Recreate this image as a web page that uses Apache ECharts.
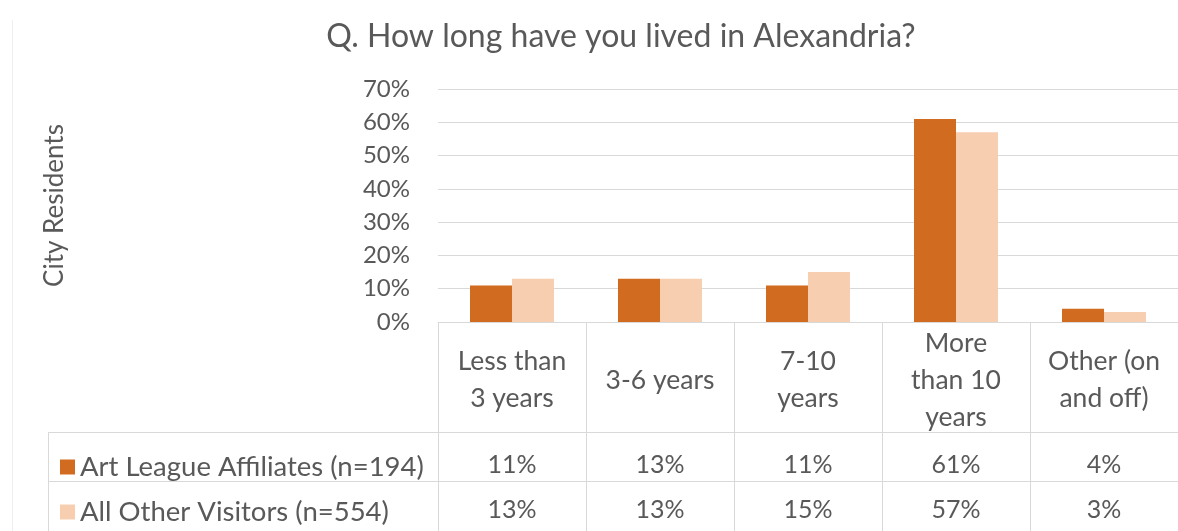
<!DOCTYPE html>
<html>
<head>
<meta charset="utf-8">
<script src="https://cdn.jsdelivr.net/npm/echarts@6/dist/echarts.min.js"></script>
<style>
html,body{margin:0;padding:0;background:#fff;}
#chart{width:1178px;height:531px;}
</style>
</head>
<body>
<div id="chart"></div>
<script>
const title = 'Q. How long have you lived in Alexandria?';
const categories = ['Less than\n3 years', '3-6 years', '7-10\nyears', 'More\nthan 10\nyears', 'Other (on\nand off)'];
const seriesNames = ['Art League Affiliates (n=194)', 'All Other Visitors (n=554)'];
const artLeague = [11, 13, 11, 61, 4];
const otherVisitors = [13, 13, 15, 57, 3];
const yTicks = [0, 10, 20, 30, 40, 50, 60, 70];
const yAxisTitle = 'City Residents';

const FONT = 'Lato, "Open Sans", sans-serif';
const TXT = '#595959';
const LINE = '#d9d9d9';
const colors = ['#D06B1F', '#F8CEB0'];

const chart = echarts.init(document.getElementById('chart'));
chart.setOption({
  animation: false,
  textStyle: {fontFamily: FONT},
  title: {
    text: title, left: 616, textAlign: 'center', top: 16,
    textStyle: {fontFamily: FONT, fontSize: 32, fontWeight: 'normal', color: TXT}
  },
  legend: {
    orient: 'vertical', left: 55, top: 448,
    itemWidth: 15, itemHeight: 15, itemGap: 17,
    icon: 'rect',
    textStyle: {fontFamily: FONT, fontSize: 27.5, color: TXT, padding: [0, 0, 0, 0]},
    data: seriesNames
  },
  grid: {left: 438, right: 0, top: 89, bottom: 209, containLabel: false},
  xAxis: [
    {
      type: 'category', data: categories, position: 'bottom',
      axisLine: {show: true, lineStyle: {color: LINE}},
      axisTick: {show: true, length: 209, alignWithLabel: false, lineStyle: {color: LINE}},
      axisLabel: {interval: 0, margin: 58, verticalAlign: 'middle', fontSize: 26.5, lineHeight: 37, color: TXT, fontFamily: FONT}
    },
    {
      type: 'category', data: artLeague.map(v => v + '%'), position: 'bottom', offset: 110,
      axisLine: {show: true, lineStyle: {color: LINE}},
      axisTick: {show: false},
      axisLabel: {interval: 0, margin: 33, verticalAlign: 'middle', fontSize: 25, color: TXT, fontFamily: FONT}
    },
    {
      type: 'category', data: otherVisitors.map(v => v + '%'), position: 'bottom', offset: 159,
      axisLine: {show: true, lineStyle: {color: LINE}},
      axisTick: {show: false},
      axisLabel: {interval: 0, margin: 29, verticalAlign: 'middle', fontSize: 25, color: TXT, fontFamily: FONT}
    }
  ],
  yAxis: {
    type: 'value', min: yTicks[0], max: yTicks[yTicks.length - 1], interval: 10,
    name: yAxisTitle, nameLocation: 'middle', nameRotate: 90, nameGap: 370,
    nameTextStyle: {fontFamily: FONT, fontSize: 26, color: TXT},
    axisLine: {show: false}, axisTick: {show: false},
    axisLabel: {formatter: '{value}%', fontSize: 24, color: TXT, margin: 28, fontFamily: FONT},
    splitLine: {lineStyle: {color: LINE, width: 1}}
  },
  graphic: [
    {type: 'line', shape: {x1: 48, y1: 432.5, x2: 438, y2: 432.5}, style: {stroke: LINE, lineWidth: 1}},
    {type: 'line', shape: {x1: 48, y1: 481.5, x2: 438, y2: 481.5}, style: {stroke: LINE, lineWidth: 1}},
    {type: 'line', shape: {x1: 48.5, y1: 432, x2: 48.5, y2: 531}, style: {stroke: LINE, lineWidth: 1}},
    {type: 'line', shape: {x1: 12.5, y1: 20, x2: 12.5, y2: 531}, style: {stroke: '#eeeeee', lineWidth: 1}}
  ],
  series: [
    {name: seriesNames[0], type: 'bar', data: artLeague, barWidth: 42, barGap: '0%', itemStyle: {color: colors[0]}},
    {name: seriesNames[1], type: 'bar', data: otherVisitors, barWidth: 42, barGap: '0%', itemStyle: {color: colors[1]}}
  ]
});
</script>
</body>
</html>
